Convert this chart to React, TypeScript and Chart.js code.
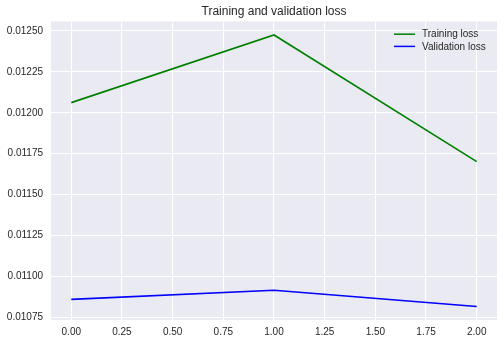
import React, { useEffect, useRef } from "react";
import { Chart, registerables } from "chart.js";

Chart.register(...registerables);

const epochs = [0, 1, 2];
const trainingLoss = [0.012062, 0.012476, 0.011701];
const validationLoss = [0.010858, 0.010914, 0.010815];
const xTicks = [0, 0.25, 0.5, 0.75, 1, 1.25, 1.5, 1.75, 2];
const yTicks = [0.01075, 0.011, 0.01125, 0.0115, 0.01175, 0.012, 0.01225, 0.0125];
const seriesLabels = ["Training loss", "Validation loss"];
const titleText = "Training and validation loss";

const FONT = "'Liberation Sans', Arial, Helvetica, sans-serif";
const TEXT_COLOR = "#262626";

const bgPlugin = {
  id: "plotBg",
  beforeDraw(chart: any) {
    const { ctx, chartArea } = chart;
    ctx.save();
    ctx.fillStyle = "#EAEAF2";
    ctx.fillRect(chartArea.left, chartArea.top, chartArea.right - chartArea.left, chartArea.bottom - chartArea.top);
    ctx.restore();
  },
};

const legendPlugin = {
  id: "innerLegend",
  afterDatasetsDraw(chart: any) {
    const { ctx, chartArea } = chart;
    ctx.save();
    ctx.font = `10px ${FONT}`;
    ctx.textBaseline = "middle";
    ctx.textAlign = "left";
    const x0 = chartArea.right - 103;
    chart.data.datasets.forEach((ds: any, i: number) => {
      const y = chartArea.top + 12.8 + i * 12.2;
      ctx.strokeStyle = ds.borderColor;
      ctx.lineWidth = 1.5;
      ctx.beginPath();
      ctx.moveTo(x0, y);
      ctx.lineTo(x0 + 21, y);
      ctx.stroke();
      ctx.fillStyle = TEXT_COLOR;
      ctx.fillText(ds.label, x0 + 28, y + 0.5);
    });
    ctx.restore();
  },
};

export default function App() {
  const ref = useRef<HTMLCanvasElement>(null);

  useEffect(() => {
    document.body.style.margin = "0";
    const canvas = ref.current!;
    const chart = new Chart(canvas, {
      type: "line",
      data: {
        datasets: [
          {
            label: seriesLabels[0],
            data: epochs.map((e, i) => ({ x: e, y: trainingLoss[i] })),
            borderColor: "#008000",
            backgroundColor: "#008000",
            borderWidth: 1.6,
            pointRadius: 0,
            tension: 0,
          },
          {
            label: seriesLabels[1],
            data: epochs.map((e, i) => ({ x: e, y: validationLoss[i] })),
            borderColor: "#0000FF",
            backgroundColor: "#0000FF",
            borderWidth: 1.6,
            pointRadius: 0,
            tension: 0,
          },
        ],
      },
      options: {
        animation: false,
        responsive: false,
        maintainAspectRatio: false,
        layout: { padding: { left: 0, right: 7, top: 0, bottom: 0 } },
        plugins: {
          legend: { display: false },
          tooltip: { enabled: false },
          title: {
            display: true,
            fullSize: false,
            text: titleText,
            color: TEXT_COLOR,
            font: { family: FONT, size: 12, weight: "normal" as any, lineHeight: 1.2 },
            padding: { top: 4, bottom: 3 },
          },
        },
        scales: {
          x: {
            type: "linear",
            min: -0.1,
            max: 2.1,
            border: { display: false },
            grid: { color: "#FFFFFF", lineWidth: 1.1, drawTicks: false },
            afterBuildTicks: (axis: any) => {
              axis.ticks = xTicks.map((v) => ({ value: v }));
            },
            afterFit: (axis: any) => {
              axis.height = 23;
            },
            ticks: {
              color: TEXT_COLOR,
              font: { family: FONT, size: 10 },
              padding: 6,
              maxRotation: 0,
              autoSkip: false,
              callback: (v: any) => Number(v).toFixed(2),
            },
          },
          y: {
            type: "linear",
            min: 0.010732,
            max: 0.012559,
            border: { display: false },
            grid: { color: "#FFFFFF", lineWidth: 1.1, drawTicks: false },
            afterBuildTicks: (axis: any) => {
              axis.ticks = yTicks.map((v) => ({ value: v }));
            },
            afterFit: (axis: any) => {
              axis.width = 51;
            },
            ticks: {
              color: TEXT_COLOR,
              font: { family: FONT, size: 10 },
              padding: 8,
              autoSkip: false,
              callback: (v: any) => Number(v).toFixed(5),
            },
          },
        },
      },
      plugins: [bgPlugin, legendPlugin],
    });
    return () => chart.destroy();
  }, []);

  return (
    <div style={{ position: "fixed", left: 0, top: 0, width: 504, height: 343, background: "#fff" }}>
      <canvas ref={ref} width={504} height={343} style={{ width: 504, height: 343, display: "block" }} />
    </div>
  );
}
